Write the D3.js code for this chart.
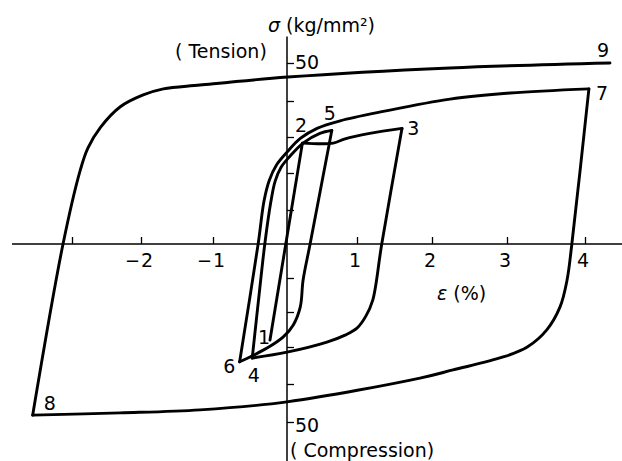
<!DOCTYPE html>
<html>
<head>
<meta charset="utf-8">
<script src="https://cdn.jsdelivr.net/npm/d3@7"></script>
<style>
  body { margin: 0; background: #fff; }
  text { font-family: "DejaVu Sans", sans-serif; font-size: 19px; fill: #000; }
</style>
</head>
<body>
<div id="viz"></div>
<script>
// strain eps (%) / stress sigma (kg/mm2), one array per branch
const branch12 = [[-0.23, -28.0], [0.22, 28.3]]
const branch23 = [[0.22, 28.3], [0.66, 28.3], [0.83, 29.5], [1.17, 31.0], [1.6, 32.4]]
const branch34 = [[1.6, 32.4], [1.33, 0], [1.21, -16.5], [1.12, -21.1], [1.0, -24.6],
  [0.83, -26.6], [0.57, -28.6], [0, -31.4], [-0.47, -33.0]]
const branch45 = [[-0.47, -33.0], [-0.37, -13.5], [-0.3, 0], [-0.22, 12.0], [-0.16, 17.8], [-0.08, 21.6],
  [0.04, 24.6], [0.23, 28.3], [0.47, 31.0], [0.64, 31.8]]
const branch56 = [[0.64, 31.8], [0.33, 0], [0.23, -10.6], [0.19, -18.5], [0.09, -23.7],
  [-0.05, -27.1], [-0.27, -30.3], [-0.5, -32.7], [-0.64, -34.0]]
const branch67 = [[-0.64, -34.0], [-0.39, 0], [-0.31, 12.5], [-0.24, 18.0], [-0.14, 22.3], [0, 25.8],
  [0.19, 29.6], [0.43, 32.4], [0.76, 34.5], [1.35, 37.1], [2.24, 40.5], [3.04, 42.1], [4.05, 43.2]]
const branch78 = [[4.05, 43.2], [3.83, -0.3], [3.77, -10.6], [3.68, -18.5], [3.51, -25.1], [3.26, -30.0],
  [2.95, -32.7], [2.28, -36.2], [1.84, -38.4], [0, -44.7], [-1.18, -46.8], [-2.3, -47.6], [-3.57, -48.2]]
const branch89 = [[-3.57, -48.2], [-3.13, 0], [-2.88, 20.8], [-2.77, 26.9], [-2.59, 32.6], [-2.3, 38.4],
  [-1.97, 41.6], [-1.69, 43.2], [-1.18, 44.2], [0.01, 46.3], [2.24, 48.7], [4.32, 50.0]]

const branches = [branch12, branch23, branch34, branch45, branch56, branch67, branch78, branch89]

// numbers written next to the turning points
const pointNames = ["1", "2", "3", "4", "5", "6", "7", "8", "9"]
const pointEps = [-0.31, 0.2, 1.75, -0.45, 0.61, -0.78, 4.22, -3.32, 4.23]
const pointSigma = [-27.1, 33.4, 32.4, -37.6, 36.8, -35.1, 42.1, -45.0, 53.4]

const strainTicks = [-3, -2, -1, 1, 2, 3, 4]
const strainLabels = [-2, -1, 1, 2, 3, 4]
const stressTicks = [-50, -40, -30, -20, -10, 10, 20, 30, 40, 50]
const stressLabels = [50, -50]

const width = 622
const height = 461

const svg = d3.select("#viz").append("svg")
  .attr("width", width)
  .attr("height", height)

// the printed grid is slightly uneven, so the scales follow each tick
const x = d3.scaleLinear()
  .domain([-3, -2, -1, 0, 1, 2, 3, 4])
  .range([72, 141, 213, 287, 357, 432, 507, 585])
const y = d3.scaleLinear()
  .domain([-50, -40, -30, -20, -10, 0, 10, 20, 30, 40, 50])
  .range([422, 384, 347, 312, 278, 244, 210, 173, 137, 101, 63])

// axes
svg.append("line")
  .attr("x1", x(-3.87)).attr("x2", width)
  .attr("y1", y(0)).attr("y2", y(0))
  .attr("stroke", "#000").attr("stroke-width", 1.5)
svg.append("line")
  .attr("x1", x(0)).attr("x2", x(0))
  .attr("y1", y(57)).attr("y2", height)
  .attr("stroke", "#000").attr("stroke-width", 1.5)

const xAxis = svg.append("g")
  .attr("transform", `translate(0,${y(0)})`)
  .call(d3.axisTop(x).tickValues(strainTicks).tickSize(7).tickFormat(""))
xAxis.select(".domain").remove()
xAxis.selectAll("line").attr("stroke-width", 1.3)

const yAxis = svg.append("g")
  .attr("transform", `translate(${x(0)},0)`)
  .call(d3.axisRight(y).tickValues(stressTicks).tickSize(7).tickFormat(""))
yAxis.select(".domain").remove()
yAxis.selectAll("line").attr("stroke-width", 1.3)

// tick labels
const xl = svg.selectAll(".xlab")
  .data(strainLabels)
  .enter()
  .append("text")
  .attr("class", "xlab")
  .attr("y", y(0) + 23)
  .attr("x", d => d < 0 ? x(d) + 12 : x(d) - 2)
  .attr("text-anchor", d => d < 0 ? "end" : "middle")
xl.filter(d => d < 0).append("tspan")
  .attr("textLength", 15).attr("lengthAdjust", "spacingAndGlyphs")
  .text("\u2212")
xl.append("tspan")
  .attr("dx", d => d < 0 ? 1 : 0)
  .text(d => Math.abs(d))

svg.selectAll(".ylab")
  .data(stressLabels)
  .enter()
  .append("text")
  .attr("x", x(0) + 8)
  .attr("y", d => y(d) + (d > 0 ? 6 : 10))
  .text(d => Math.abs(d))

// titles
const sig = svg.append("text").attr("x", 268).attr("y", 32)
sig.append("tspan").attr("font-style", "italic").text("σ")
sig.append("tspan").text(" (kg/mm²)")

svg.append("text").attr("x", 175).attr("y", 58).text("( Tension)")
svg.append("text").attr("x", 290).attr("y", 457).text("( Compression)")

const eps = svg.append("text").attr("x", 437).attr("y", 300)
eps.append("tspan").attr("font-style", "italic").text("ε")
eps.append("tspan").text(" (%)")

// hysteresis branches
const line = d3.line()
  .x(d => x(d[0]))
  .y(d => y(d[1]))
  .curve(d3.curveCatmullRom.alpha(0.5))

svg.selectAll(".branch")
  .data(branches)
  .enter()
  .append("path")
  .attr("class", "branch")
  .attr("d", d => line(d))
  .attr("fill", "none")
  .attr("stroke", "#000")
  .attr("stroke-width", 2.9)
  .attr("stroke-linecap", "round")
  .attr("stroke-linejoin", "round")

svg.selectAll(".pt")
  .data(pointNames)
  .enter()
  .append("text")
  .attr("class", "pt")
  .attr("x", (d, i) => x(pointEps[i]))
  .attr("y", (d, i) => y(pointSigma[i]))
  .attr("text-anchor", "middle")
  .attr("dominant-baseline", "central")
  .text(d => d)
</script>
</body>
</html>
